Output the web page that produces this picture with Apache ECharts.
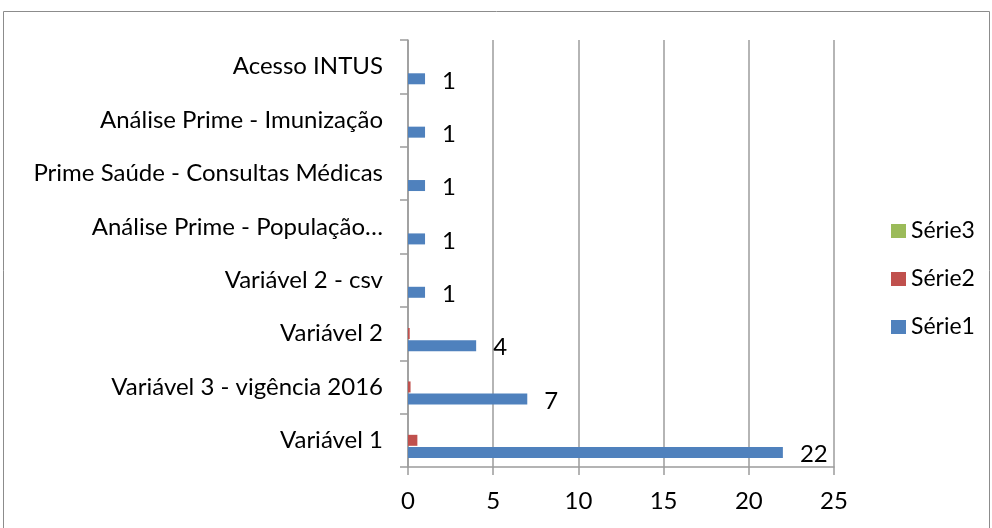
<!DOCTYPE html>
<html>
<head>
<meta charset="utf-8">
<script src="https://cdn.jsdelivr.net/npm/echarts@6/dist/echarts.min.js"></script>
<style>html,body{margin:0;padding:0;background:#fff}#c{width:992px;height:528px}</style>
</head>
<body>
<div id="c"></div>
<script>
const categories = ["Variável 1", "Variável 3 - vigência 2016", "Variável 2", "Variável 2 - csv", "Análise Prime - População…", "Prime Saúde - Consultas Médicas", "Análise Prime - Imunização", "Acesso INTUS"];
const serie1 = [22, 7, 4, 1, 1, 1, 1, 1];
const serie2 = [0.55, 0.15, 0.1, 0, 0, 0, 0, 0];
const serie3 = [0, 0, 0, 0, 0, 0, 0, 0];
const xTicks = {min: 0, max: 25, interval: 5};

const FONT = 'Lato';
const FS = 24;
const GRAY = '#9c9c9c';
const chart = echarts.init(document.getElementById('c'));
chart.setOption({
  animation: false,
  textStyle: {fontFamily: FONT},
  grid: {left: 408, right: 158, top: 40, bottom: 61},
  graphic: [{type: 'rect', shape: {x: 3.5, y: 11.5, width: 986, height: 540}, style: {fill: 'none', stroke: '#8c8c8c', lineWidth: 1}, silent: true}],
  legend: {
    orient: 'vertical', left: 886, top: 214, itemWidth: 15, itemHeight: 14, itemGap: 24,
    icon: 'rect',
    data: ['Série3', 'Série2', 'Série1'],
    textStyle: {fontFamily: FONT, fontSize: 23, lineHeight: 24, color: '#000', padding: [0, 0, 0, 0]}
  },
  xAxis: {
    type: 'value', min: xTicks.min, max: xTicks.max, interval: xTicks.interval,
    axisLine: {show: true, lineStyle: {color: GRAY, width: 1.5}},
    axisTick: {show: true, length: 8, lineStyle: {color: GRAY, width: 1.5}},
    splitLine: {show: true, lineStyle: {color: GRAY, width: 1.5}},
    axisLabel: {fontFamily: FONT, fontSize: FS, color: '#000', margin: 22}
  },
  yAxis: {
    type: 'category', data: categories,
    axisLine: {show: true, lineStyle: {color: GRAY, width: 1.5}},
    axisTick: {show: true, length: 8, lineStyle: {color: GRAY, width: 1.5}},
    splitLine: {show: false},
    axisLabel: {fontFamily: FONT, fontSize: FS, color: '#000', margin: 25}
  },
  series: [
    {name: 'Série3', type: 'bar', data: serie3, barWidth: 11, barGap: '10%', itemStyle: {color: '#9BBB59'}},
    {name: 'Série2', type: 'bar', data: serie2, barWidth: 11, barGap: '10%', itemStyle: {color: '#C0504D'}},
    {name: 'Série1', type: 'bar', data: serie1, barWidth: 11, barGap: '10%', itemStyle: {color: '#4F81BD'},
     label: {show: true, position: 'right', distance: 17, fontFamily: FONT, fontSize: FS, color: '#000', offset: [0, 2]}}
  ]
});
</script>
</body>
</html>
